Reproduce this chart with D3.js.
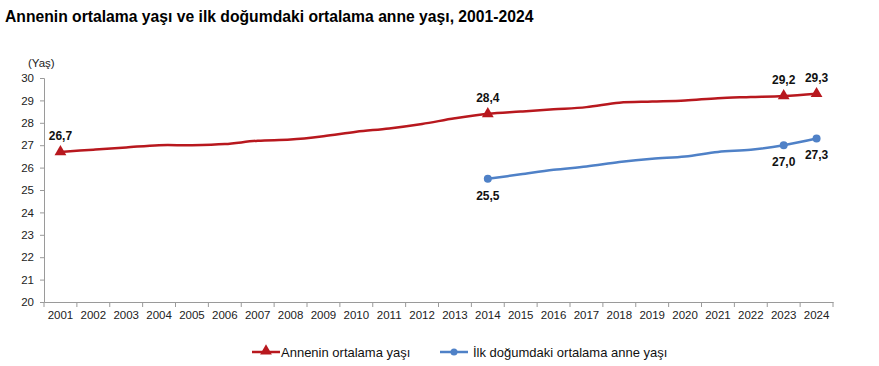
<!DOCTYPE html>
<html><head><meta charset="utf-8">
<script src="https://cdn.jsdelivr.net/npm/d3@7"></script>
<style>
body{margin:0;background:#fff;}
svg{font-family:"Liberation Sans",Arial,sans-serif;}
</style></head>
<body>
<svg id="c" width="879" height="366"></svg>
<script>
const years = ["2001","2002","2003","2004","2005","2006","2007","2008","2009","2010","2011","2012","2013","2014","2015","2016","2017","2018","2019","2020","2021","2022","2023","2024"];
const motherAge = [26.7,26.8,26.9,27.0,27.0,27.05,27.2,27.25,27.4,27.6,27.75,27.95,28.2,28.4,28.5,28.6,28.7,28.9,28.95,29.0,29.1,29.15,29.2,29.3];
const firstBirthYears = ["2014","2015","2016","2017","2018","2019","2020","2021","2022","2023","2024"];
const firstBirthAge = [25.5,25.7,25.9,26.05,26.25,26.4,26.5,26.7,26.8,27.0,27.3];
const motherLabels = ["2001","2014","2023","2024"];
const firstLabels = ["2014","2023","2024"];
const yTicks = [20,21,22,23,24,25,26,27,28,29,30];
const seriesNames = ["Annenin ortalama yaşı","İlk doğumdaki ortalama anne yaşı"];
const title = "Annenin ortalama yaşı ve ilk doğumdaki ortalama anne yaşı, 2001-2024";

const red = "#b8181e", blue = "#4f81c7";
const svg = d3.select("#c");
const L = 44, R = 833, T = 78, B = 302;
const x = d3.scaleBand().domain(years).range([L, R]);
const y = d3.scaleLinear().domain([20, 30]).range([B, T]);
const cx = d => x(d) + x.bandwidth()/2;

svg.append("text").attr("x", 5).attr("y", 22).attr("font-size", 15.7).attr("font-weight", "bold").attr("fill", "#000").text(title);

// y axis
const ya = svg.append("g").attr("transform", `translate(${L},0)`)
  .call(d3.axisLeft(y).tickValues(yTicks).tickSize(4).tickPadding(6).tickFormat(d3.format("d")));
ya.select(".domain").attr("stroke", "#9a9a9a");
ya.selectAll(".tick line").attr("stroke", "#9a9a9a");
ya.selectAll("text").attr("font-size", 11.5).attr("fill", "#222").attr("font-family", "Liberation Sans, Arial");
svg.append("text").attr("x", 28).attr("y", 67).attr("font-size", 11.5).attr("fill", "#222").text("(Yaş)");

// x axis
const xa = svg.append("g").attr("transform", `translate(0,${B})`)
  .call(d3.axisBottom(x).tickSize(0).tickPadding(9));
xa.select(".domain").attr("stroke", "#9a9a9a");
xa.selectAll("text").attr("font-size", 11.5).attr("fill", "#222").attr("font-family", "Liberation Sans, Arial");
const bounds = years.map(d => x(d)).concat([R]);
svg.append("g").selectAll("line").data(bounds).join("line")
  .attr("x1", d => d).attr("x2", d => d).attr("y1", B).attr("y2", B + 5).attr("stroke", "#9a9a9a");

const line = d3.line().curve(d3.curveCatmullRom.alpha(0.5));

// red series
svg.append("path").attr("d", line(years.map((d,i) => [cx(d), y(motherAge[i])])))
  .attr("fill", "none").attr("stroke", red).attr("stroke-width", 2.5);
const tri = d3.symbol().type(d3.symbolTriangle).size(60);
motherLabels.forEach(yr => {
  const i = years.indexOf(yr);
  svg.append("path").attr("d", tri()).attr("transform", `translate(${cx(yr)},${y(motherAge[i])})`).attr("fill", red);
  svg.append("text").attr("x", cx(yr)).attr("y", y(motherAge[i]) - 12).attr("text-anchor", "middle")
    .attr("font-size", 12).attr("font-weight", "bold").attr("fill", "#111")
    .text(d3.format(".1f")(motherAge[i]).replace(".", ","));
});

// blue series
svg.append("path").attr("d", line(firstBirthYears.map((d,i) => [cx(d), y(firstBirthAge[i])])))
  .attr("fill", "none").attr("stroke", blue).attr("stroke-width", 2.5);
firstLabels.forEach(yr => {
  const i = firstBirthYears.indexOf(yr);
  svg.append("circle").attr("cx", cx(yr)).attr("cy", y(firstBirthAge[i])).attr("r", 4).attr("fill", blue);
  svg.append("text").attr("x", cx(yr)).attr("y", y(firstBirthAge[i]) + 21).attr("text-anchor", "middle")
    .attr("font-size", 12).attr("font-weight", "bold").attr("fill", "#111")
    .text(d3.format(".1f")(firstBirthAge[i]).replace(".", ","));
});

// legend
const lg = svg.append("g");
lg.append("line").attr("x1", 252).attr("x2", 280).attr("y1", 352).attr("y2", 352).attr("stroke", red).attr("stroke-width", 2.5);
lg.append("path").attr("d", tri()).attr("transform", "translate(266,351)").attr("fill", red);
lg.append("text").attr("x", 281).attr("y", 357).attr("font-size", 13).attr("fill", "#111").text(seriesNames[0]);
lg.append("line").attr("x1", 440).attr("x2", 468).attr("y1", 352).attr("y2", 352).attr("stroke", blue).attr("stroke-width", 2.5);
lg.append("circle").attr("cx", 454).attr("cy", 352).attr("r", 3.5).attr("fill", blue);
lg.append("text").attr("x", 473).attr("y", 357).attr("font-size", 13).attr("fill", "#111").text(seriesNames[1]);
</script>
</body></html>
